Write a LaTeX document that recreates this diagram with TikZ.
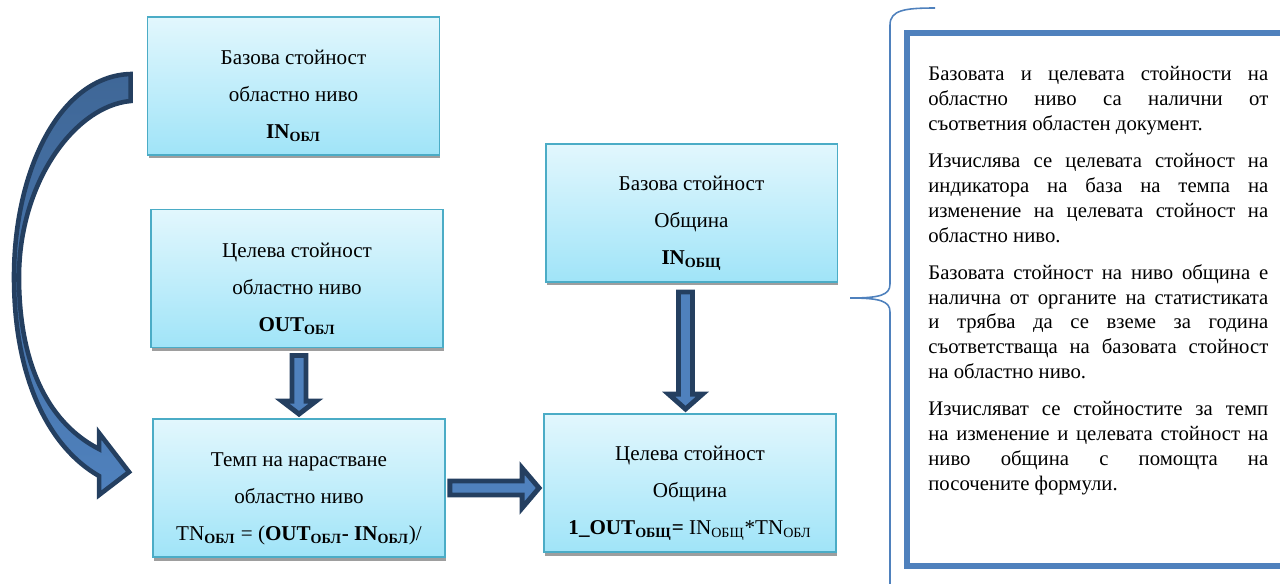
\documentclass[tikz,border=0pt]{standalone}
\usepackage{fontspec}
\setmainfont{Liberation Serif}
\usepackage{tikz}
\usetikzlibrary{calc,shadows}
\tikzset{>=latex}
\definecolor{boxtop}{HTML}{E2F7FD}
\definecolor{boxbot}{HTML}{A0E4F8}
\definecolor{boxline}{HTML}{4BACC6}
\definecolor{arrfill}{HTML}{4F81BD}
\definecolor{arrtop}{HTML}{3F6797}
\definecolor{arrline}{HTML}{243F60}
\definecolor{notebl}{HTML}{4F81BD}
\tikzstyle{valbox}=[rectangle,draw=boxline,line width=1.1pt,top color=boxtop,bottom color=boxbot,minimum width=5.84cm,minimum height=2.76cm,align=center,font={\fontsize{12}{21}\selectfont},drop shadow={shadow xshift=0.02cm,shadow yshift=-0.07cm,fill=black!38,opacity=1}]
\tikzstyle{blockarr}=[draw=arrline,fill=arrfill,line width=2.8pt,line join=miter]
\tikzstyle{curvarr}=[blockarr,line width=2.6pt,top color=arrtop,bottom color=arrfill]
\tikzstyle{notetext}=[inner sep=0pt,text width=6.8cm,align=justify,font={\fontsize{11.8}{14.2}\selectfont},execute at begin node={\setlength{\parskip}{6.8pt}\setlength{\parindent}{0pt}\hyphenpenalty=10000}]
\tikzstyle{noteframe}=[draw=notebl,line width=3.4pt]
\tikzstyle{bracel}=[draw=notebl,line width=0.9pt]

\begin{document}
\begin{tikzpicture}[x=0.02cm,y=-0.02cm]
	\def \tpad {\rule{0pt}{0.7cm}}
	\useasboundingbox (0,0) rectangle (1280,583);
	\clip (0,0) rectangle (1280,583);

	% left column
	\node[valbox] (inobl) at (293.5,86) {\tpad Базова стойност\\ областно ниво\\ \textbf{IN\textsubscript{ОБЛ}}};
	\node[valbox] (outobl) at (297,278.5) {\tpad Целева стойност\\ областно ниво\\ \textbf{OUT\textsubscript{ОБЛ}}};
	\node[valbox] (tnobl) at (299,488) {\tpad Темп на нарастване\\ областно ниво\\ TN\textsubscript{\textbf{ОБЛ}} = (\textbf{OUT\textsubscript{ОБЛ}- IN\textsubscript{ОБЛ}})/};

	% middle column
	\node[valbox] (inobsh) at (691.5,213) {\tpad Базова стойност\\ Община\\ \textbf{IN\textsubscript{ОБЩ}}};
	\node[valbox] (outobsh) at (690,483) {\tpad Целева стойност\\ Община\\ \textbf{1\_OUT\textsubscript{ОБЩ}=} IN\textsubscript{ОБЩ}*TN\textsubscript{ОБЛ}};

	% block arrows
	\draw[blockarr] ($(outobl.south -| tnobl.north)+(-7,7)$) -- ($(tnobl.north)+(-7,-17)$) -- ++(-10,0) -- ($(tnobl.north)+(0,-4)$) -- ($(tnobl.north)+(17,-17)$) -- ++(-10,0) -- ($(outobl.south -| tnobl.north)+(7,7)$) -- cycle;
	\draw[blockarr] ($(inobsh.south -| outobsh.north)+(-11.5,9)$) -- ($(outobsh.north)+(-11.5,-19)$) -- ++(-10,0) -- ($(outobsh.north)+(-4.5,-4)$) -- ($(outobsh.north)+(12.5,-19)$) -- ++(-10,0) -- ($(inobsh.south -| outobsh.north)+(2.5,9)$) -- cycle;
	\draw[blockarr] ($(tnobl.east)+(4,-7)$) -- ($(tnobl.east -| outobsh.west)+(-21,-7)$) -- ++(0,-13) -- ($(tnobl.east -| outobsh.west)+(-4,0)$) -- ($(tnobl.east -| outobsh.west)+(-21,20)$) -- ++(0,-13) -- ($(tnobl.east)+(4,7)$) -- cycle;

	% curved arrow
	\draw[curvarr] ($(inobl.west)+(-16,-12)$) .. controls (60,76) and (14,170) .. (14,277) .. controls (14,380) and (50,448) .. ($(tnobl.west)+(-53,-12)$) -- ++(0,19) -- ($(tnobl.west)+(-23,-16)$) -- ($(tnobl.west)+(-53,-55)$) -- ++(0,16) .. controls (52,425) and (19,370) .. (19,277) .. controls (19,182) and (75,106) .. ($(inobl.west)+(-16,15)$) -- cycle;

	% note on the right
	\draw[noteframe] (907,33) rectangle (1300,566);
	\node[notetext,anchor=north west] (note) at (928,66) {%
Базовата и целевата стойности на\linebreak областно ниво са налични от\linebreak съответния областен документ.\par
Изчислява се целевата стойност на\linebreak индикатора на база на темпа на\linebreak изменение на целевата стойност на\linebreak областно ниво.\par
Базовата стойност на ниво община е\linebreak налична от органите на статистиката\linebreak и трябва да се вземе за година\linebreak съответстваща на базовата стойност\linebreak на областно ниво.\par
Изчисляват се стойностите за темп\linebreak на изменение и целевата стойност на\linebreak ниво община с помощта на\linebreak посочените формули.};

	\draw[bracel] (935,8) .. controls (905,8) and (890,10) .. (890,25) -- (890,284) .. controls (890,295) and (880,298) .. (850,298) .. controls (880,298) and (890,301) .. (890,312) -- (890,590);
\end{tikzpicture}
\end{document}
